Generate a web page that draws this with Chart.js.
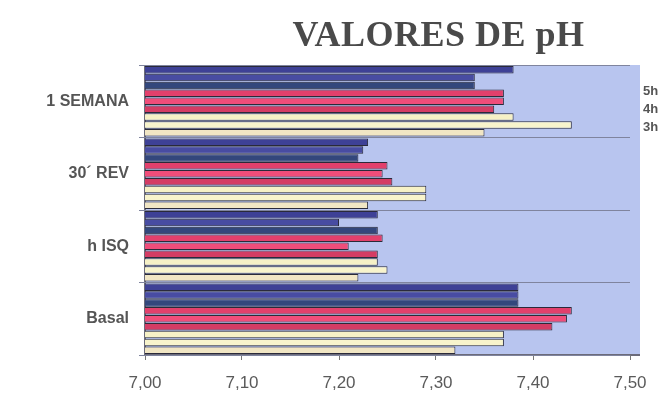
<!DOCTYPE html>
<html>
<head>
<meta charset="utf-8">
<script src="https://cdn.jsdelivr.net/npm/chart.js@4"></script>
<style>
  html, body { margin: 0; padding: 0; background: #fff; }
  #wrap { position: relative; width: 663px; height: 400px; }
  #title { position: absolute; left: 0; width: 663px; top: 13px; text-align: center; padding-left: 214px; box-sizing: border-box;
           font: bold 36px "Liberation Serif", "Times New Roman", serif; color: #4a4a4a; letter-spacing: 0.5px; }
  .hl { position: absolute; left: 643px; font: bold 13px "Liberation Sans", Arial, sans-serif; color: #555; }
</style>
</head>
<body>
<div id="wrap">
  <canvas id="c" width="663" height="400"></canvas>
  <div id="title">VALORES DE pH</div>
  <div class="hl" style="top:83px">5h</div>
  <div class="hl" style="top:101px">4h</div>
  <div class="hl" style="top:119px">3h</div>
</div>
<script>
const categories = ["1 SEMANA", "30´ REV", "h ISQ", "Basal"];
const tickLabels = ["7,00", "7,10", "7,20", "7,30", "7,40", "7,50"];

const azul1 = [7.38, 7.23, 7.24, 7.385];
const azul2 = [7.34, 7.225, 7.20, 7.385];
const azul3 = [7.34, 7.22, 7.24, 7.385];
const rojo1 = [7.37, 7.25, 7.245, 7.44];
const rojo2 = [7.37, 7.245, 7.21, 7.435];
const rojo3 = [7.36, 7.255, 7.24, 7.42];
const amarillo1 = [7.38, 7.29, 7.24, 7.37];
const amarillo2 = [7.44, 7.29, 7.25, 7.37];
const amarillo3 = [7.35, 7.23, 7.22, 7.32];

const seriesData = [azul1, azul2, azul3, rojo1, rojo2, rojo3, amarillo1, amarillo2, amarillo3];
const seriesNames = ["5h a", "5h b", "5h c", "4h a", "4h b", "4h c", "3h a", "3h b", "3h c"];
const seriesColors = ["#3e4196", "#484ca2", "#33477c", "#e2406c", "#f04d7a", "#d43c64", "#f6f1c6", "#f8f4cc", "#f1e6c4"];

const bgPlugin = {
  id: 'bg',
  beforeDraw(chart) {
    const a = chart.chartArea, ctx = chart.ctx;
    ctx.save();
    ctx.fillStyle = "#b8c5ef";
    ctx.fillRect(a.left, a.top, a.right - a.left + 10, a.bottom - a.top);
    ctx.strokeStyle = "#6b6b7a";
    ctx.lineWidth = 2;
    ctx.beginPath();
    ctx.moveTo(a.left, a.top); ctx.lineTo(a.left, a.bottom); ctx.lineTo(a.right + 10, a.bottom);
    ctx.stroke();
    ctx.restore();
  }
};

new Chart(document.getElementById('c'), {
  type: 'bar',
  data: {
    labels: categories,
    datasets: seriesData.map((d, i) => ({
      label: seriesNames[i],
      data: d,
      backgroundColor: seriesColors[i],
      borderColor: "#2a2a3a",
      borderWidth: 1,
      categoryPercentage: 0.98,
      barPercentage: 0.95
    }))
  },
  options: {
    indexAxis: 'y',
    responsive: false,
    animation: false,
    layout: { padding: { left: 0, right: 33, top: 65, bottom: 0 } },
    plugins: { legend: { display: false }, title: { display: false }, tooltip: { enabled: false } },
    scales: {
      x: {
        min: 7.0, max: 7.5,
        ticks: {
          stepSize: 0.1,
          color: "#5a5a5a",
          font: { family: "Liberation Sans, Arial, sans-serif", size: 17 },
          padding: 13,
          callback: (v, i) => tickLabels[i]
        },
        grid: { display: true, drawOnChartArea: false, tickLength: 5, color: "#777" },
        border: { display: false },
        afterFit: s => { s.height = 45; }
      },
      y: {
        ticks: {
          color: "#555",
          font: { family: "Liberation Sans, Arial, sans-serif", size: 16, weight: "bold" },
          padding: 10
        },
        grid: { display: true, drawOnChartArea: true, offset: true, color: "#7f849e", tickLength: 6 },
        border: { display: false },
        afterFit: s => { s.width = 145; }
      }
    }
  },
  plugins: [bgPlugin]
});
</script>
</body>
</html>
